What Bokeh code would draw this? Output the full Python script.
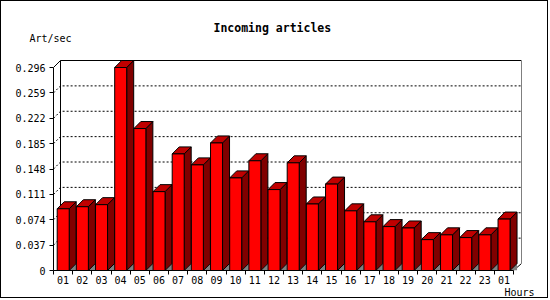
from bokeh.plotting import figure
from bokeh.models import FixedTicker, Title, Range1d
from bokeh.embed import file_html
from bokeh.resources import INLINE

# ---- data ----
hours = ["01", "02", "03", "04", "05", "06", "07", "08", "09", "10", "11", "12",
         "13", "14", "15", "16", "17", "18", "19", "20", "21", "22", "23", "01"]
rates = [0.090, 0.093, 0.096, 0.296, 0.207, 0.115, 0.170, 0.154, 0.186, 0.135, 0.160, 0.118,
         0.157, 0.097, 0.126, 0.087, 0.071, 0.064, 0.062, 0.045, 0.052, 0.048, 0.052, 0.075]
y_ticks = [0, 0.037, 0.074, 0.111, 0.148, 0.185, 0.222, 0.259, 0.296]
y_tick_labels = ["0", "0.037", "0.074", "0.111", "0.148", "0.185", "0.222", "0.259", "0.296"]
title_text = "Incoming articles"
y_unit = "Art/sec"
x_unit = "Hours"

# ---- geometry (pixels, canvas is inside a 1px page border) ----
W, H = 548, 298
b_left, b_right, b_top, b_bottom = 52, 28, 58, 29
n = len(hours)
slot_px = 460 / n            # width of one hour slot
axis_px = 203                # pixel height of y axis from 0 to max tick
depth_px = 7                 # 3D depth
y_max = y_ticks[-1]
ypp = y_max / axis_px
frame_w = W - b_left - b_right
frame_h = H - b_top - b_bottom
x0 = 0.5
x_end = x0 + frame_w / slot_px
y_end = frame_h * ypp
dx = depth_px / slot_px
dy = depth_px * ypp

FONT = "DejaVu Sans Mono"

p = figure(width=W, height=H, output_backend="svg", toolbar_location=None, title=None,
           x_range=Range1d(x0, x_end), y_range=Range1d(0, y_end),
           min_border_left=b_left, min_border_right=b_right,
           min_border_top=b_top, min_border_bottom=b_bottom,
           background_fill_color="white", border_fill_color="white")
p.styles = {"border": "1px solid black"}
p.outline_line_color = None
p.xgrid.visible = False
p.ygrid.visible = False

# texts above / below the frame
p.add_layout(Title(text=y_unit, align="left", offset=-24, standoff=32,
                   text_font=FONT, text_font_size="10px", text_font_style="normal",
                   text_color="black", vertical_align="bottom"), "above")
p.add_layout(Title(text=title_text, align="left", offset=160, standoff=-40,
                   text_font=FONT, text_font_size="11.5px", text_font_style="bold",
                   text_color="black", vertical_align="bottom"), "above")
p.add_layout(Title(text=x_unit, align="right", offset=-13, standoff=0,
                   text_font=FONT, text_font_size="10px", text_font_style="normal",
                   text_color="black", vertical_align="top"), "below")

# back plane
xl = x0 + dx
xr = x_end
xb = x0 + n
p.multi_line(xs=[[x0, xl, xr, xr, xb], [xl, xl]],
             ys=[[y_max, y_max + dy, y_max + dy, dy, 0], [dy, y_max + dy]],
             line_color="black", line_width=1)
# grid lines on back plane
gxs, gys = [], []
for t in y_ticks[1:-1]:
    gxs.append([x0, xl, xr])
    gys.append([t, t + dy, t + dy])
p.multi_line(xs=gxs, ys=gys, line_color="black", line_width=1, line_dash="2 2")

# bars
fxs, fys, sxs, sys_, txs, tys, shx, shy = [], [], [], [], [], [], [], []
for i, v in enumerate(rates):
    left = x0 + i + 3.7 / slot_px
    right = left + 12 / slot_px
    fxs.append([left, right, right, left]); fys.append([0, 0, v, v])
    sxs.append([right, right + dx, right + dx, right]); sys_.append([0, dy, v + dy, v])
    txs.append([left, right, right + dx, left + dx]); tys.append([v, v, v + dy, v + dy])
    shx.append([right, right + dx, right + dx]); shy.append([0, dy, 0])

p.patches(shx, shy, fill_color="#808080", line_color=None)
p.patches(sxs, sys_, fill_color="#800000", line_color="black", line_width=1)
p.patches(txs, tys, fill_color="#C00000", line_color="black", line_width=1)
p.patches(fxs, fys, fill_color="#FF0000", line_color="black", line_width=1)

# y axis
ya = p.yaxis[0]
ya.ticker = FixedTicker(ticks=y_ticks)
ya.major_label_overrides = {t: lab for t, lab in zip(y_ticks, y_tick_labels)}
ya.bounds = (0, y_max)
ya.major_tick_out = 4
ya.major_tick_in = 0
ya.minor_tick_line_color = None
ya.major_label_standoff = 4
ya.major_label_text_font = FONT
ya.major_label_text_font_size = "10px"
ya.major_label_text_color = "black"
ya.axis_line_color = "black"
ya.major_tick_line_color = "black"

# x axis
xa = p.xaxis[0]
centers = [int(round(x0 + 0.5 + i)) for i in range(n)]
xa.ticker = FixedTicker(ticks=centers, minor_ticks=[x0 + i for i in range(n + 1)])
xa.major_label_overrides = {c: h for c, h in zip(centers, hours)}
xa.bounds = (x0, x0 + n)
xa.major_tick_line_color = None
xa.major_tick_out = 4
xa.major_tick_in = 0
xa.minor_tick_line_color = "black"
xa.minor_tick_out = 4
xa.minor_tick_in = 0
xa.major_label_standoff = 1
xa.major_label_text_font = FONT
xa.major_label_text_font_size = "10px"
xa.major_label_text_color = "black"
xa.axis_line_color = "black"

open("out.html", "w").write(file_html(p, INLINE))
